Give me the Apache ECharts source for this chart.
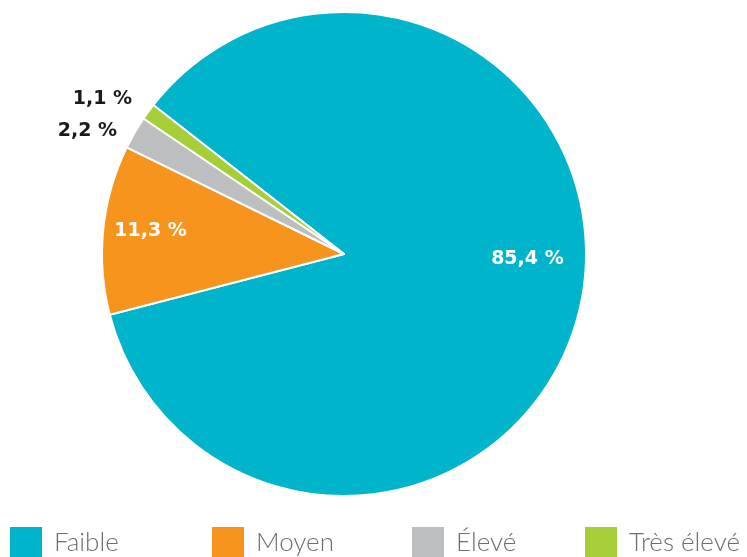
<!DOCTYPE html>
<html>
<head>
<meta charset="utf-8">
<script src="https://cdn.jsdelivr.net/npm/echarts@6/dist/echarts.min.js"></script>
<style>
  html, body { margin: 0; padding: 0; background: #fff; }
  #chart { width: 747px; height: 557px; }
</style>
</head>
<body>
<div id="chart"></div>
<script>
// niveaux et parts (%)
var categories = ["Faible", "Moyen", "Élevé", "Très élevé"];
var values = [85.4, 11.3, 2.2, 1.1];
var colors = ["#00b4cc", "#f7941d", "#bcbec0", "#a6ce39"];

var labelFont = "'DejaVu Sans', sans-serif";
var legendFont = "Lato, 'Open Sans', sans-serif";

// label placement tweaks per slice
var labelCfg = [
  { position: "inside", color: "#fff", offset: [62, -20] },
  { position: "inside", color: "#fff", offset: [-70, -10] },
  { position: "outside", color: "#1a1a1a", offset: [-9, 0] },
  { position: "outside", color: "#1a1a1a", offset: [-8, -10] }
];

var legendLeft = [10, 212, 412, 585];

var chart = echarts.init(document.getElementById("chart"));

var data = categories.map(function (c, i) {
  return {
    name: c,
    value: values[i],
    itemStyle: { color: colors[i] },
    label: labelCfg[i]
  };
});

var legends = categories.map(function (c, i) {
  return {
    data: [c],
    left: legendLeft[i],
    top: 527,
    padding: 0,
    itemWidth: 32,
    itemHeight: 32,
    icon: "rect",
    selectedMode: false,
    itemStyle: { borderWidth: 0 },
    textStyle: {
      fontFamily: legendFont,
      fontSize: 26,
      fontWeight: 300,
      color: "#6d6e71",
      padding: [3, 0, 0, 7]
    }
  };
});

chart.setOption({
  animation: false,
  legend: legends,
  series: [{
    type: "pie",
    center: [344, 254],
    radius: 242,
    startAngle: 142,
    clockwise: true,
    avoidLabelOverlap: false,
    itemStyle: { borderColor: "#fff", borderWidth: 2 },
    label: {
      show: true,
      fontFamily: labelFont,
      fontSize: 19,
      fontWeight: "bold",
      formatter: function (p) {
        return p.value.toFixed(1).replace(".", ",") + " %";
      }
    },
    labelLine: { show: false, length: 4, length2: 0 },
    data: data
  }]
});
</script>
</body>
</html>
